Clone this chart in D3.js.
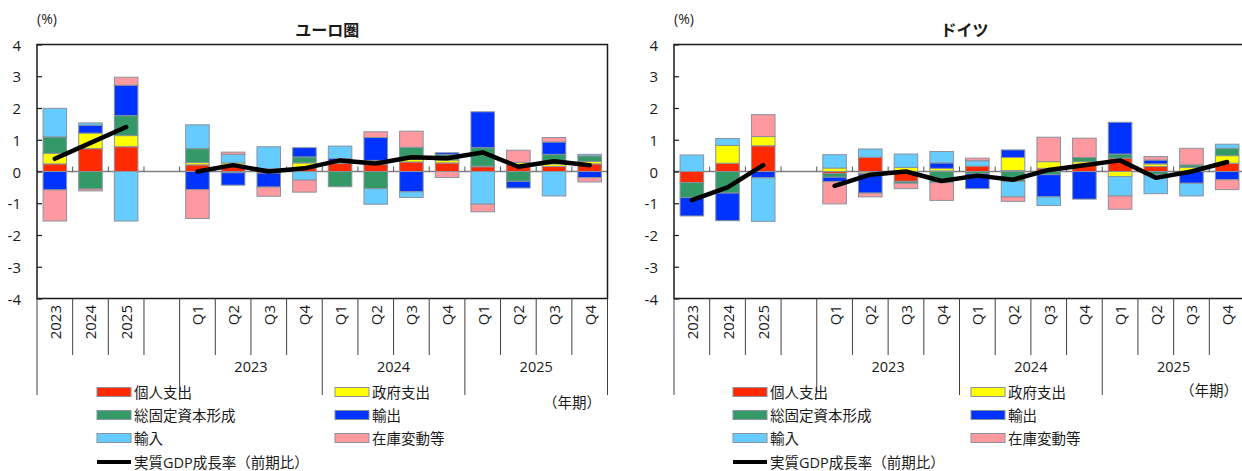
<!DOCTYPE html>
<html>
<head>
<meta charset="utf-8">
<script src="https://cdn.jsdelivr.net/npm/d3@7"></script>
<style>
  html, body { margin: 0; padding: 0; background: #fff; }
  svg { display: block; }
  text { font-family: "Open Sans", "Noto Sans CJK JP", sans-serif; fill: #1a1a1a; }
</style>
</head>
<body>
<svg id="chart" width="1242" height="471"></svg>
<script>
// Categories: three annual bars, an empty slot, then 12 quarters
const categories = ["2023", "2024", "2025", "", "Q1", "Q2", "Q3", "Q4", "Q1", "Q2", "Q3", "Q4", "Q1", "Q2", "Q3", "Q4"];
const yearGroups = ["2023", "2024", "2025"];
const yTicks = [4, 3, 2, 1, 0, -1, -2, -3, -4];

const seriesNames = ["個人支出", "政府支出", "総固定資本形成", "輸出", "輸入", "在庫変動等"];
const seriesColors = ["#ff2a00", "#ffff00", "#339966", "#0033ff", "#66ccff", "#ff99a0"];
const lineName = "実質GDP成長率（前期比）";

// ユーロ圏: contributions (pt) and real GDP growth (%)
const euroConsumption = [0.24, 0.72, 0.78, null, 0.21, 0.20, -0.05, 0.12, 0.25, 0.22, 0.30, 0.27, 0.15, 0.22, 0.16, 0.24];
const euroGovernment  = [0.33, 0.49, 0.35, null, 0.07, 0.07, 0.03, 0.15, 0.07, 0.13, 0.08, 0.09, 0.02, 0.06, 0.08, 0.08];
const euroInvestment  = [0.52, -0.55, 0.63, null, 0.44, -0.04, 0.06, 0.19, -0.48, -0.54, 0.38, 0.17, 0.58, -0.31, 0.30, 0.17];
const euroExports     = [-0.58, 0.25, 0.96, null, -0.57, -0.39, -0.44, 0.29, 0.09, 0.72, -0.64, 0.06, 1.13, -0.21, 0.39, -0.19];
const euroImports     = [0.90, 0.07, -1.56, null, 0.75, 0.27, 0.69, -0.27, 0.39, -0.49, -0.18, 0.00, -1.03, 0.00, -0.77, 0.05];
const euroInventory   = [-0.98, -0.06, 0.25, null, -0.91, 0.07, -0.29, -0.38, 0.00, 0.18, 0.51, -0.19, -0.24, 0.39, 0.14, -0.14];
const euroGDP         = [0.4, 0.9, 1.4, null, 0.0, 0.2, 0.0, 0.1, 0.35, 0.25, 0.45, 0.42, 0.6, 0.15, 0.32, 0.2];

// ドイツ: contributions (pt) and real GDP growth (%)
const deConsumption = [-0.35, 0.26, 0.81, null, -0.06, 0.45, -0.31, 0.02, 0.17, 0.03, 0.10, 0.23, 0.42, 0.16, 0.00, 0.26];
const deGovernment  = [0.00, 0.56, 0.29, null, 0.11, -0.05, 0.13, 0.08, 0.00, 0.41, 0.21, 0.08, -0.16, 0.08, 0.13, 0.24];
const deInvestment  = [-0.47, -0.68, 0.00, null, -0.12, -0.03, -0.06, -0.35, -0.07, -0.31, -0.10, 0.13, 0.13, -0.10, 0.08, 0.23];
const deExports     = [-0.58, -0.87, -0.20, null, -0.14, -0.60, 0.00, 0.17, -0.47, 0.24, -0.70, -0.87, 1.00, 0.12, -0.37, -0.26];
const deImports     = [0.52, 0.22, -1.37, null, 0.42, 0.26, 0.42, 0.36, 0.17, -0.49, -0.27, 0.00, -0.61, -0.60, -0.40, 0.13];
const deInventory   = [0.00, 0.00, 0.69, null, -0.70, -0.12, -0.17, -0.56, 0.08, -0.14, 0.77, 0.61, -0.42, 0.11, 0.52, -0.31];
const deGDP         = [-0.9, -0.5, 0.2, null, -0.45, -0.1, 0.0, -0.3, -0.13, -0.26, 0.05, 0.2, 0.35, -0.2, 0.0, 0.3];

const panels = [
  { title: "ユーロ圏", x0: 37, x1: 607.5, series: [euroConsumption, euroGovernment, euroInvestment, euroExports, euroImports, euroInventory], gdp: euroGDP,
    legendX: 97, legendX2: 335, periodX: 572, periodY: 402 },
  { title: "ドイツ", x0: 674, x1: 1245, series: [deConsumption, deGovernment, deInvestment, deExports, deImports, deInventory], gdp: deGDP,
    legendX: 733, legendX2: 971, periodX: 1209, periodY: 390 }
];

const svg = d3.select("#chart");
const plotTop = 44.5, plotBottom = 298.5;
const sepMinorBottom = 355, sepMajorBottom = 395;

panels.forEach(p => {
  const g = svg.append("g");
  const idx = d3.range(categories.length);
  const x = d3.scaleBand().domain(idx).range([p.x0, p.x1]).paddingInner(0.34).paddingOuter(0.17);
  const step = x.step();
  const y = d3.scaleLinear().domain([-4, 4]).range([plotBottom, plotTop]);

  // rows for stacking
  const keys = seriesNames;
  const rows = idx.map(i => {
    const r = { i };
    keys.forEach((k, s) => { r[k] = p.series[s][i] == null ? 0 : p.series[s][i]; });
    return r;
  });
  const stacked = d3.stack().keys(keys).offset(d3.stackOffsetDiverging)(rows);

  // zero line
  g.append("line")
    .attr("x1", p.x0).attr("x2", p.x1)
    .attr("y1", y(0)).attr("y2", y(0))
    .attr("stroke", "#7f7f7f").attr("stroke-width", 1.5);
  // small ticks on the zero line at category boundaries
  idx.slice(1).forEach(i => {
    const bx = p.x0 + step * i;
    g.append("line")
      .attr("x1", bx).attr("x2", bx)
      .attr("y1", y(0)).attr("y2", y(0) - 5)
      .attr("stroke", "#555").attr("stroke-width", 1);
  });

  // stacked bars
  stacked.forEach((layer, s) => {
    g.append("g").selectAll("rect")
      .data(layer.filter(d => p.series[s][d.data.i] != null && d[1] !== d[0]))
      .join("rect")
      .attr("x", d => x(d.data.i))
      .attr("width", x.bandwidth())
      .attr("y", d => y(Math.max(d[0], d[1])))
      .attr("height", d => Math.abs(y(d[0]) - y(d[1])))
      .attr("fill", seriesColors[s])
      .attr("stroke", "#8a929c")
      .attr("stroke-width", 1);
  });

  // GDP growth line (gap at the empty slot)
  const line = d3.line()
    .defined(d => d.v != null)
    .x(d => x(d.i) + x.bandwidth() / 2)
    .y(d => y(d.v));
  g.append("path")
    .datum(p.gdp.map((v, i) => ({ i, v })))
    .attr("d", line)
    .attr("fill", "none")
    .attr("stroke", "#000")
    .attr("stroke-width", 4.5)
    .attr("stroke-linecap", "round")
    .attr("stroke-linejoin", "round");

  // frame
  g.append("rect")
    .attr("x", p.x0).attr("y", plotTop)
    .attr("width", p.x1 - p.x0).attr("height", plotBottom - plotTop)
    .attr("fill", "none").attr("stroke", "#1a1a1a").attr("stroke-width", 1.5);

  // y axis with inward ticks
  const yAxis = d3.axisRight(y).tickValues(yTicks).tickSize(5).tickFormat("");
  g.append("g").attr("transform", `translate(${p.x0},0)`).call(yAxis)
    .call(a => a.select(".domain").remove())
    .call(a => a.selectAll("line").attr("stroke", "#1a1a1a").attr("stroke-width", 1.2));
  g.append("g").selectAll("text")
    .data(yTicks).join("text")
    .attr("x", p.x0 - 16).attr("y", d => y(d))
    .attr("text-anchor", "end").attr("dominant-baseline", "central")
    .attr("font-size", 15)
    .text(d => d);

  // category separators below the plot
  d3.range(categories.length + 1).forEach(i => {
    const bx = p.x0 + step * i;
    const major = (i === 0 || i === 4 || i === 8 || i === 12 || i === 16);
    g.append("line")
      .attr("x1", bx).attr("x2", bx)
      .attr("y1", plotBottom).attr("y2", major ? sepMajorBottom : sepMinorBottom)
      .attr("stroke", "#404040").attr("stroke-width", 1);
  });

  // rotated category labels
  g.append("g").selectAll("text")
    .data(idx.filter(i => categories[i] !== "")).join("text")
    .attr("transform", i => `translate(${x(i) + x.bandwidth() / 2},305) rotate(-90)`)
    .attr("text-anchor", "end").attr("dominant-baseline", "central")
    .attr("font-size", 15)
    .text(i => categories[i]);

  // year group labels
  yearGroups.forEach((yr, k) => {
    const gx = p.x0 + step * (4 + 4 * k + 2);
    g.append("text")
      .attr("x", gx).attr("y", 372)
      .attr("text-anchor", "middle")
      .attr("font-size", 14.5)
      .text(yr);
  });

  // title and unit
  g.append("text")
    .attr("x", (p.x0 + p.x1) / 2 + 5).attr("y", 36)
    .attr("text-anchor", "middle").attr("font-size", 16).attr("font-weight", "bold")
    .text(p.title);
  g.append("text")
    .attr("x", p.x0 + 10).attr("y", 24)
    .attr("text-anchor", "middle").attr("font-size", 14)
    .text("(%)");

  // period note
  g.append("text")
    .attr("x", p.periodX).attr("y", p.periodY)
    .attr("text-anchor", "middle").attr("dominant-baseline", "central")
    .attr("font-size", 14.5)
    .text("（年期）");

  // legend
  const rowsY = [392, 415, 438];
  seriesNames.forEach((name, s) => {
    const col = s % 2, row = Math.floor(s / 2);
    const lx = col === 0 ? p.legendX : p.legendX2;
    const ly = rowsY[row];
    g.append("rect")
      .attr("x", lx).attr("y", ly - 4.5).attr("width", 34).attr("height", 9)
      .attr("fill", seriesColors[s]).attr("stroke", "#8a929c").attr("stroke-width", 1);
    g.append("text")
      .attr("x", lx + 37).attr("y", ly)
      .attr("dominant-baseline", "central").attr("font-size", 14.5)
      .text(name);
  });
  g.append("line")
    .attr("x1", p.legendX).attr("x2", p.legendX + 34)
    .attr("y1", 462).attr("y2", 462)
    .attr("stroke", "#000").attr("stroke-width", 4);
  g.append("text")
    .attr("x", p.legendX + 37).attr("y", 462)
    .attr("dominant-baseline", "central").attr("font-size", 14.5)
    .text(lineName);
});
</script>
</body>
</html>
